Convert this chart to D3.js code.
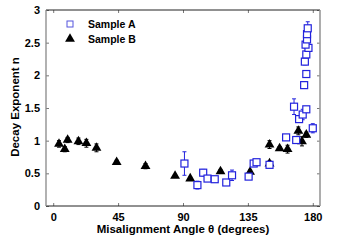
<!DOCTYPE html>
<html>
<head>
<meta charset="utf-8">
<script src="https://cdn.jsdelivr.net/npm/d3@7"></script>
<style>
  body { margin: 0; background: #fff; }
  text { font-family: "Liberation Sans", Arial, sans-serif; font-weight: bold; }
</style>
</head>
<body>
<svg width="353" height="241"></svg>
<script>
var svg = d3.select("svg");

// Sample A (blue squares)
var aAngle = [91, 100, 104, 107, 112, 120, 124, 135.5, 139, 141, 150, 161.5, 167, 168.5, 170.5, 173, 175.5, 180, 174, 175.5, 174.5, 175.5, 177, 175, 176, 176, 176.5];
var aN = [0.65, 0.32, 0.51, 0.42, 0.41, 0.36, 0.47, 0.45, 0.65, 0.67, 0.63, 1.05, 1.52, 1.01, 1.33, 1.40, 1.48, 1.19, 1.85, 2.02, 2.21, 2.32, 2.42, 2.47, 2.55, 2.63, 2.72];
var aErr = [0.18, 0.06, 0.05, 0.04, 0.03, 0.02, 0.08, 0.03, 0.03, 0.03, 0.03, 0.04, 0.12, 0.03, 0.05, 0.08, 0.04, 0.07, 0.05, 0.05, 0.05, 0.05, 0.05, 0.05, 0.05, 0.05, 0.1];

// Sample B (black triangles)
var bAngle = [4, 8, 10, 17.5, 23, 30, 44, 64, 84.5, 95, 116, 136.5, 150, 150, 157, 162.5, 170, 172.5, 175.5];
var bN = [0.95, 0.87, 1.01, 0.99, 0.96, 0.89, 0.67, 0.61, 0.46, 0.42, 0.53, 0.52, 0.65, 0.94, 0.88, 0.87, 1.15, 0.99, 1.09];
var bErr = [0.05, 0.04, 0.04, 0.05, 0.06, 0.06, 0.03, 0.04, 0.02, 0.02, 0.03, 0.03, 0.04, 0.06, 0.03, 0.06, 0.06, 0.07, 0.04];

var xTicks = [0, 45, 90, 135, 180];
var yTicks = [0, 0.5, 1, 1.5, 2, 2.5, 3];

var plotL = 46, plotR = 320, plotT = 10, plotB = 206;

var x = d3.scaleLinear().domain([-5, 185]).range([plotL, plotR]);
var y = d3.scaleLinear().domain([0, 3]).range([plotB, plotT]);

// axes (ticks inside, on all sides)
svg.append("g")
  .attr("transform", "translate(0," + plotB + ")")
  .call(d3.axisBottom(x).tickValues(xTicks).tickSize(-3).tickPadding(7))
  .call(g => g.select(".domain").remove());
svg.append("g")
  .attr("transform", "translate(0," + plotT + ")")
  .call(d3.axisTop(x).tickValues(xTicks).tickSize(-3).tickFormat(""))
  .call(g => g.select(".domain").remove());
svg.append("g")
  .attr("transform", "translate(" + plotL + ",0)")
  .call(d3.axisLeft(y).tickValues(yTicks).tickSize(-3).tickPadding(6).tickFormat(d3.format("")))
  .call(g => g.select(".domain").remove());
svg.append("g")
  .attr("transform", "translate(" + plotR + ",0)")
  .call(d3.axisRight(y).tickValues(yTicks).tickSize(-3).tickFormat(""))
  .call(g => g.select(".domain").remove());

svg.selectAll(".tick text").attr("font-size", 11).attr("fill", "#000")
  .style("font-family", "'Liberation Sans', Arial, sans-serif").style("font-weight", "bold");
svg.selectAll(".tick line").attr("stroke", "#777");

// frame
svg.append("line").attr("x1", plotL).attr("x2", plotR).attr("y1", plotT).attr("y2", plotT).attr("stroke", "#222");
svg.append("line").attr("x1", plotL).attr("x2", plotR).attr("y1", plotB).attr("y2", plotB).attr("stroke", "#222");
svg.append("line").attr("x1", plotL).attr("x2", plotL).attr("y1", plotT).attr("y2", plotB).attr("stroke", "#888").attr("stroke-width", 1.3);
svg.append("line").attr("x1", plotR).attr("x2", plotR).attr("y1", plotT).attr("y2", plotB).attr("stroke", "#999").attr("stroke-width", 1.6);

// error bars
function errorBars(xs, ys, es, color) {
  var g = svg.append("g").attr("stroke", color).attr("stroke-width", 1);
  xs.forEach(function (a, i) {
    var cx = x(a), y1 = y(ys[i] - es[i]), y2 = y(ys[i] + es[i]);
    g.append("line").attr("x1", cx).attr("x2", cx).attr("y1", y1).attr("y2", y2);
    g.append("line").attr("x1", cx - 2).attr("x2", cx + 2).attr("y1", y1).attr("y2", y1);
    g.append("line").attr("x1", cx - 2).attr("x2", cx + 2).attr("y1", y2).attr("y2", y2);
  });
}
errorBars(bAngle, bN, bErr, "#000");
errorBars(aAngle, aN, aErr, "#2222dd");

var tri = d3.symbol().type(d3.symbolTriangle).size(42);

svg.append("g").selectAll("path")
  .data(bAngle)
  .enter().append("path")
  .attr("d", tri)
  .attr("transform", (d, i) => "translate(" + x(d) + "," + y(bN[i]) + ")")
  .attr("fill", "#000");

svg.append("g").selectAll("rect")
  .data(aAngle)
  .enter().append("rect")
  .attr("x", (d) => x(d) - 3.5)
  .attr("y", (d, i) => y(aN[i]) - 3.5)
  .attr("width", 7).attr("height", 7)
  .attr("fill", "#fff")
  .attr("stroke", "#2222dd")
  .attr("stroke-width", 1.2);

// legend
svg.append("rect").attr("x", 67).attr("y", 21).attr("width", 6).attr("height", 6)
  .attr("fill", "#fff").attr("stroke", "#5555dd").attr("stroke-width", 1);
svg.append("path").attr("d", tri).attr("transform", "translate(70,39)").attr("fill", "#000");
svg.append("text").attr("x", 88).attr("y", 28).attr("font-size", 10.5).text("Sample A");
svg.append("text").attr("x", 88).attr("y", 43).attr("font-size", 10.5).text("Sample B");

// axis titles
svg.append("text")
  .attr("x", 183)
  .attr("y", 233)
  .attr("text-anchor", "middle")
  .attr("font-size", 11.5)
  .text("Misalignment Angle θ (degrees)");

svg.append("text")
  .attr("transform", "translate(19,107) rotate(-90)")
  .attr("text-anchor", "middle")
  .attr("font-size", 11.5)
  .text("Decay Exponent n");
</script>
</body>
</html>
